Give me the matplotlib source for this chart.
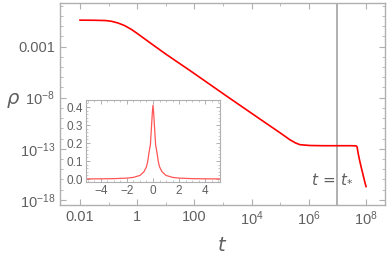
import numpy as np
import matplotlib.pyplot as plt
from matplotlib import rcParams
from matplotlib.ticker import FixedLocator, FuncFormatter, MultipleLocator

rcParams['font.family'] = ['Liberation Sans', 'DejaVu Sans']
rcParams['mathtext.fontset'] = 'dejavusans'

# main curve (log10 t, log10 rho)
log_t = [-2.0, -1.5, -1.1, -0.9, -0.67, -0.45, -0.2, 0.0, 0.3, 0.62, 1.0, 1.85,
         3.24, 4.29, 4.99, 5.34, 5.52, 5.69, 6.04, 6.5, 7.0, 7.5, 7.66, 7.69,
         7.72, 7.78, 7.83, 7.9, 7.97, 8.0]
log_rho = [-0.42, -0.43, -0.46, -0.53, -0.7, -0.94, -1.33, -1.72, -2.33, -2.98,
           -3.74, -5.36, -8.07, -10.09, -11.43, -12.12, -12.41, -12.6, -12.68,
           -12.7, -12.7, -12.7, -12.72, -12.85, -13.4, -14.2, -14.8, -15.6,
           -16.4, -16.7]

# inset peak
x_in = [-5.2, -4.0, -3.0, -2.0, -1.5, -1.0, -0.7, -0.5, -0.4, -0.3, -0.2, -0.15,
        -0.1, -0.05, 0.0, 0.05, 0.1, 0.15, 0.2, 0.3, 0.4, 0.5, 0.7, 1.0, 1.5,
        2.0, 3.0, 4.0, 5.2]
y_in = [0.0005, 0.001, 0.002, 0.005, 0.009, 0.02, 0.04, 0.068, 0.1, 0.15, 0.19,
        0.25, 0.31, 0.37, 0.41, 0.37, 0.31, 0.25, 0.19, 0.15, 0.1, 0.068, 0.04,
        0.02, 0.009, 0.005, 0.002, 0.001, 0.0005]

t_star = 1e7
frame = '#b0b0b0'
tick_col = '#606060'

fig = plt.figure(figsize=(3.9, 2.57), dpi=100)
ax = fig.add_axes([0.1538, 0.2023, 0.8332, 0.7877])
ax.plot(10**np.array(log_t), 10**np.array(log_rho), color='red', lw=1.2)
ax.axvline(t_star, color='#aaaaaa', lw=1.3, zorder=0)
ax.text(10**6.83, 10**-16.0, r'$t\,=\,t_{*}$', color=tick_col, fontsize=11,
        ha='center', va='center')

ax.set_xscale('log')
ax.set_yscale('log')
ax.set_xlim(10**-2.7, 10**8.66)
ax.set_ylim(10**-18.5, 10**1.3)

xt = [1e-2, 1, 1e2, 1e4, 1e6, 1e8]
xlab = ['0.01', '1', '100', r'$\mathregular{10^{4}}$', r'$\mathregular{10^{6}}$',
        r'$\mathregular{10^{8}}$']
yt = [1e-18, 1e-13, 1e-8, 1e-3]
ylab = [r'$\mathregular{10^{-18}}$', r'$\mathregular{10^{-13}}$',
        r'$\mathregular{10^{-8}}$', '0.001']
ax.xaxis.set_major_locator(FixedLocator(xt))
ax.set_xticklabels(xlab)
ax.xaxis.set_minor_locator(FixedLocator([10.0**k for k in range(-2, 9)]))
ax.xaxis.set_minor_formatter(FuncFormatter(lambda v, p: ''))
ax.yaxis.set_major_locator(FixedLocator(yt))
ax.set_yticklabels(ylab)
ax.yaxis.set_minor_locator(FixedLocator([10.0**k for k in range(-18, 2)]))
ax.yaxis.set_minor_formatter(FuncFormatter(lambda v, p: ''))

ax.tick_params(which='both', direction='in', top=True, right=True,
               color=frame, labelcolor=tick_col, labelsize=10.5)
ax.tick_params(which='major', length=4, width=0.8)
ax.tick_params(which='minor', length=2, width=0.6)
for s in ax.spines.values():
    s.set_color(frame)
    s.set_linewidth(1.0)

ax.set_xlabel(r'$t$', fontsize=14, color=tick_col, labelpad=6)
ax.set_ylabel(r'$\rho$', fontsize=14, color=tick_col, rotation=0)
ax.yaxis.set_label_coords(-0.145, 0.47)

ins = fig.add_axes([0.2205, 0.2918, 0.3436, 0.319])
ins.plot(x_in, y_in, color='#ff5555', lw=0.9)
ins.set_xlim(-5.15, 5.15)
ins.set_ylim(-0.0167, 0.439)
ins.xaxis.set_major_locator(MultipleLocator(2))
ins.xaxis.set_minor_locator(MultipleLocator(0.5))
ins.yaxis.set_major_locator(MultipleLocator(0.1))
ins.yaxis.set_minor_locator(MultipleLocator(0.02))
ins.yaxis.set_major_formatter(FuncFormatter(lambda v, p: '%.1f' % v))
ins.xaxis.set_major_formatter(FuncFormatter(lambda v, p: '%d' % round(v) if round(v) >= 0 else '\u2212%d' % -round(v)))
ins.tick_params(which='both', direction='in', top=True, right=True,
                color=frame, labelcolor=tick_col, labelsize=8.5, pad=2)
ins.tick_params(which='major', length=3, width=0.7)
ins.tick_params(which='minor', length=1.5, width=0.5)
for s in ins.spines.values():
    s.set_color(frame)
    s.set_linewidth(0.8)

fig.savefig('out.png', dpi=100)
